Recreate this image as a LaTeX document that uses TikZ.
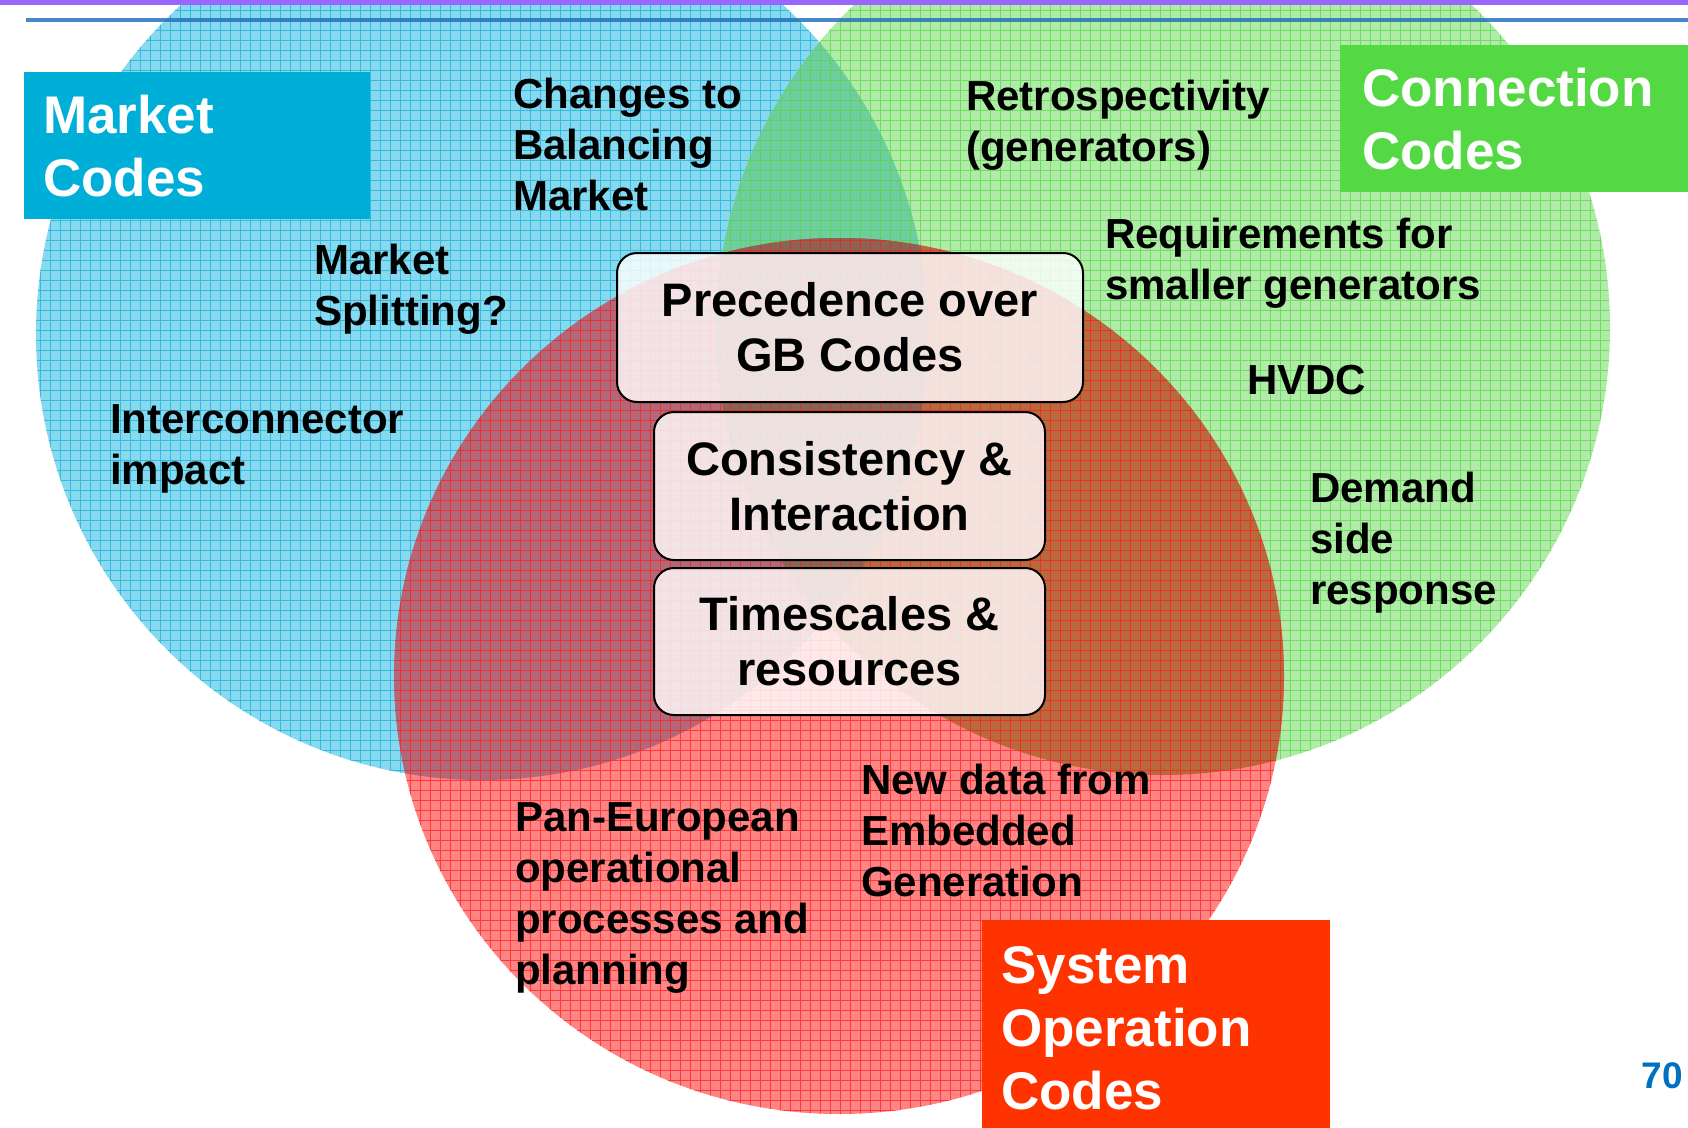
\documentclass[tikz,border=0pt]{standalone}
\usepackage{fontspec}
\setmainfont{Liberation Sans}
\definecolor{blueF}{RGB}{134,217,238}
\definecolor{greenF}{RGB}{176,236,168}
\definecolor{bgF}{RGB}{110,206,160}
\definecolor{redF}{RGB}{255,133,133}
\definecolor{rbF}{RGB}{178,104,120}
\definecolor{rgF}{RGB}{184,106,62}
\definecolor{rbgF}{RGB}{140,100,84}
\definecolor{blueG}{RGB}{20,172,214}
\definecolor{greenG}{RGB}{84,214,70}
\definecolor{redG}{RGB}{255,25,25}
\definecolor{mktC}{RGB}{0,175,216}
\definecolor{conC}{RGB}{84,216,67}
\definecolor{sysC}{RGB}{255,51,0}
\definecolor{purpC}{RGB}{153,102,255}
\definecolor{lineC}{RGB}{40,115,190}
\definecolor{numC}{RGB}{0,112,192}
\tikzset{
  gridline/.style={line width=0.9pt, opacity=0.7},
  lbl/.style={anchor=base west, inner sep=0pt, font=\fontsize{42}{51}\selectfont\bfseries},
  ttl/.style={anchor=north west, inner xsep=19pt, inner ysep=0pt, align=left,
    font=\fontsize{53}{63}\selectfont\bfseries, text=white},
  cbox/.style={draw=black, line width=2pt, rounded corners=20pt, fill=white, fill opacity=0.82,
    text opacity=1, align=center, inner sep=0pt, font=\fontsize{47}{55}\selectfont\bfseries}
}
\begin{document}
\begin{tikzpicture}[x=1pt,y=-1pt]
\useasboundingbox (0,0) rectangle (1688,1127);
\clip (0,0) rectangle (1688,1127);
\fill[white] (0,0) rectangle (1688,1127);
\coordinate (cb) at (482,334);
\coordinate (cg) at (1163,328);
\coordinate (cr) at (839,676);
% blue circle
\fill[blueF] (cb) circle (446pt);
\begin{scope}
  \clip (cb) circle (446pt);
  \draw[blueG, gridline] (30,-120) grid[step=10pt] (940,790);
\end{scope}
% green circle
\fill[greenF] (cg) circle (447pt);
\begin{scope}
  \clip (cb) circle (446pt);
  \fill[bgF] (cg) circle (447pt);
\end{scope}
\begin{scope}
  \clip (cg) circle (447pt);
  \draw[greenG, gridline] (710,-120) grid[step=10pt] (1620,780);
\end{scope}
% red circle
\fill[redF] (cr) ellipse [x radius=445pt, y radius=438pt];
\begin{scope}
  \clip (cb) circle (446pt);
  \fill[rbF] (cr) ellipse [x radius=445pt, y radius=438pt];
\end{scope}
\begin{scope}
  \clip (cg) circle (447pt);
  \fill[rgF] (cr) ellipse [x radius=445pt, y radius=438pt];
\end{scope}
\begin{scope}
  \clip (cb) circle (446pt);
  \clip (cg) circle (447pt);
  \fill[rbgF] (cr) ellipse [x radius=445pt, y radius=438pt];
\end{scope}
\begin{scope}
  \clip (cr) ellipse [x radius=445pt, y radius=438pt];
  \draw[redG, gridline] (390,230) grid[step=10pt] (1290,1127);
\end{scope}
% header line and bar
\coordinate (la) at (26,20);
\coordinate (lb) at (1688,20);
\draw[lineC, line width=4pt, opacity=0.85] (la) -- (lb);
\fill[purpC] (0,0) rectangle (1688,5);
% title boxes
\node[ttl, fill=mktC, minimum width=346pt, minimum height=147pt, text width=308pt] (mkt) at (24,72) {Market\\Codes};
\node[ttl, fill=conC, minimum width=348pt, minimum height=147pt, text width=310pt, inner xsep=22pt] (con) at (1340,45) {Connection\\Codes};
\node[ttl, fill=sysC, minimum width=348pt, minimum height=216pt, text width=310pt, anchor=north west] (sys) at (982,920) {System\\Operation\\Codes};
% centre boxes
\node[cbox, minimum width=466pt, minimum height=149pt] (prec) at (850,327.5) {Precedence over\\GB Codes};
\node[cbox, minimum width=391pt, minimum height=148pt] (cons) at (849.5,486) {Consistency \&\\Interaction};
\node[cbox, minimum width=391pt, minimum height=147pt] (time) at (849.5,641.5) {Timescales \&\\resources};
% labels
\node[lbl] (chg) at (513,108) {\begin{tabular}[t]{@{}l@{}}Changes to\\Balancing\\Market\end{tabular}};
\node[lbl] (ret) at (966,110) {\begin{tabular}[t]{@{}l@{}}Retrospectivity\\(generators)\end{tabular}};
\node[lbl] (spl) at (314,274) {\begin{tabular}[t]{@{}l@{}}Market\\Splitting?\end{tabular}};
\node[lbl] (req) at (1105,248) {\begin{tabular}[t]{@{}l@{}}Requirements for\\smaller generators\end{tabular}};
\node[lbl] (hvdc) at (1247,394) {HVDC};
\node[lbl] (int) at (110,433) {\begin{tabular}[t]{@{}l@{}}Interconnector\\impact\end{tabular}};
\node[lbl] (dsr) at (1310,502) {\begin{tabular}[t]{@{}l@{}}Demand\\side\\response\end{tabular}};
\node[lbl] (pan) at (515,831) {\begin{tabular}[t]{@{}l@{}}Pan-European\\operational\\processes and\\planning\end{tabular}};
\node[lbl] (new) at (861,794) {\begin{tabular}[t]{@{}l@{}}New data from\\Embedded\\Generation\end{tabular}};
\node[anchor=base east, inner sep=0pt, text=numC, font=\fontsize{37}{44}\selectfont\bfseries] (num) at (1683,1088) {70};
\end{tikzpicture}
\end{document}
